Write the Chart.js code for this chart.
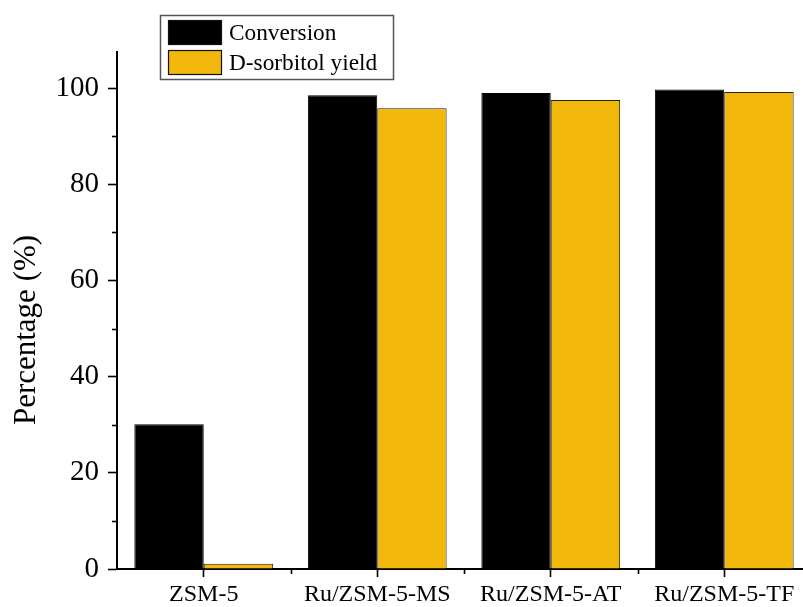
<!DOCTYPE html>
<html>
<head>
<meta charset="utf-8">
<script src="https://cdn.jsdelivr.net/npm/chart.js@4/dist/chart.umd.min.js"></script>
<style>
  html, body { margin: 0; padding: 0; background: #fff; overflow: hidden; width: 803px; height: 607px; }
  #wrap { position: absolute; left: 0; top: 0; width: 812px; height: 607px; }
</style>
</head>
<body>
<div id="wrap"><canvas id="c" width="812" height="607"></canvas></div>
<script>
// Catalyst samples and measured percentages
const categories = ['ZSM-5', 'Ru/ZSM-5-MS', 'Ru/ZSM-5-AT', 'Ru/ZSM-5-TF'];
const conversion = [30.1, 98.5, 99.0, 99.7];
const sorbitolYield = [1.1, 95.8, 97.5, 99.2];
const yTickValues = [0, 20, 40, 60, 80, 100];
const yMinorValues = [10, 30, 50, 70, 90];
const seriesNames = ['Conversion', 'D-sorbitol yield'];
const yTitle = 'Percentage (%)';

const FONT = '"Liberation Serif", "Times New Roman", serif';
const BLACK = '#000000';
const GOLD = '#F1B80B';

// Minor ticks, legend box and rotated axis title
const extras = {
  id: 'extras',
  afterDraw(chart) {
    const ctx = chart.ctx;
    const x = chart.scales.x, y = chart.scales.y;
    const area = chart.chartArea;
    ctx.save();
    ctx.strokeStyle = '#000';
    ctx.lineWidth = 1.6;
    // y minor ticks
    yMinorValues.forEach(v => {
      const py = Math.round(y.getPixelForValue(v)) + 0.5;
      ctx.beginPath();
      ctx.moveTo(area.left - 5, py);
      ctx.lineTo(area.left, py);
      ctx.stroke();
    });
    // x minor ticks between categories
    for (let i = 0; i < categories.length - 1; i++) {
      const px = Math.round((x.getPixelForValue(i) + x.getPixelForValue(i + 1)) / 2) + 0.5;
      ctx.beginPath();
      ctx.moveTo(px, area.bottom);
      ctx.lineTo(px, area.bottom + 5);
      ctx.stroke();
    }
    // legend
    ctx.strokeStyle = '#555';
    ctx.lineWidth = 1.5;
    ctx.strokeRect(160.5, 15.5, 233, 64);
    const colors = [BLACK, GOLD];
    ctx.font = '23.3px ' + FONT;
    ctx.textBaseline = 'middle';
    ctx.textAlign = 'left';
    seriesNames.forEach((name, i) => {
      const top = 20 + i * 30;
      ctx.fillStyle = colors[i];
      ctx.fillRect(168, top, 54, 25);
      ctx.strokeStyle = '#111';
      ctx.lineWidth = 1.2;
      ctx.strokeRect(168.5, top + 0.5, 53, 24);
      ctx.fillStyle = '#000';
      ctx.fillText(name, 229, top + 14);
    });
    // y title
    ctx.translate(27, 330);
    ctx.rotate(-Math.PI / 2);
    ctx.textAlign = 'center';
    ctx.font = '31px ' + FONT;
    ctx.fillStyle = '#000';
    ctx.fillText(yTitle, 0, 0);
    ctx.restore();
  }
};

new Chart(document.getElementById('c'), {
  type: 'bar',
  data: {
    labels: categories,
    datasets: [
      { label: seriesNames[0], data: conversion, backgroundColor: BLACK, borderColor: '#000', borderWidth: 1 },
      { label: seriesNames[1], data: sorbitolYield, backgroundColor: GOLD, borderColor: '#2a2000', borderWidth: 1 }
    ]
  },
  plugins: [extras],
  options: {
    responsive: false,
    animation: false,
    devicePixelRatio: 1,
    layout: { padding: { top: 52, right: 1, bottom: 0, left: 0 } },
    datasets: { bar: { categoryPercentage: 0.8, barPercentage: 1.0 } },
    plugins: { legend: { display: false }, tooltip: { enabled: false } },
    scales: {
      x: {
        offset: true,
        grid: { display: true, drawOnChartArea: false, offset: false, tickLength: 8, tickWidth: 1.6, tickColor: '#000' },
        border: { display: true, color: '#000', width: 2 },
        ticks: { color: '#000', font: { family: FONT, size: 24 }, padding: 3, maxRotation: 0, autoSkip: false },
        afterFit(s) { s.height = 38; }
      },
      y: {
        min: 0,
        max: 107.5,
        afterBuildTicks(s) { s.ticks = yTickValues.map(v => ({ value: v })); },
        grid: { display: true, drawOnChartArea: false, tickLength: 9, tickWidth: 1.6, tickColor: '#000' },
        border: { display: true, color: '#000', width: 2 },
        ticks: { color: '#000', font: { family: FONT, size: 29 }, padding: 9 },
        afterFit(s) { s.width = 117; }
      }
    }
  }
});
</script>
</body>
</html>
